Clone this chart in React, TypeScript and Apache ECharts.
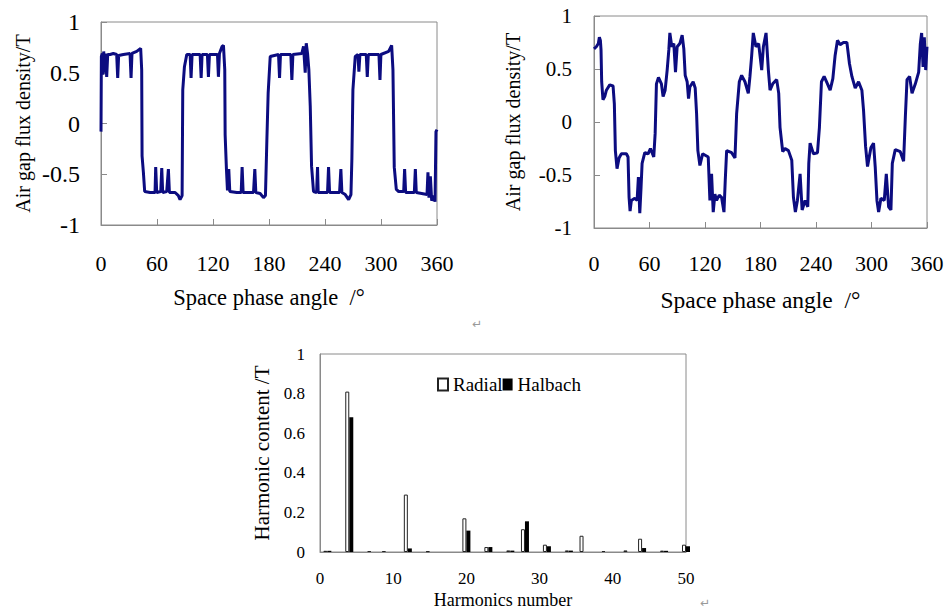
import React, { useEffect, useRef } from "react";
import * as echarts from "echarts";

// ---- Data ----
// Radial magnetised: air gap flux density vs space phase angle [deg, T]
const radialWave: [number, number][] = [
  [0, -0.08], [0.4, 0.66], [1.4, 0.69], [2.1, 0.48], [2.9, 0.71], [3.9, 0.5], [5.0, 0.69], [6.1, 0.46],
  [7.2, 0.68], [9.7, 0.68], [13.2, 0.69], [16.8, 0.68], [17.9, 0.45], [18.9, 0.67], [24.0, 0.68],
  [31.1, 0.69], [32.2, 0.45], [33.2, 0.69], [38.3, 0.71], [41.1, 0.73], [42.5, 0.74], [43.6, 0.53],
  [44.0, -0.32], [45.4, -0.48], [46.8, -0.67], [52.6, -0.68], [57.9, -0.68], [58.6, -0.43], [59.7, -0.68],
  [64.0, -0.67], [65.1, -0.44], [66.1, -0.68], [70.4, -0.67], [72.2, -0.45], [73.3, -0.68], [79.4, -0.68],
  [82.9, -0.71], [84.7, -0.75], [86.9, -0.71], [87.6, 0.33], [89.4, 0.56], [91.9, 0.68], [95.5, 0.68],
  [96.5, 0.45], [97.6, 0.68], [106.2, 0.68], [107.3, 0.45], [108.3, 0.68], [114.0, 0.68], [115.1, 0.46],
  [116.2, 0.68], [124.8, 0.68], [125.8, 0.46], [126.9, 0.69], [129.8, 0.76], [131.2, 0.77], [132.6, 0.53],
  [133.0, -0.11], [134.4, -0.45], [135.5, -0.66], [136.9, -0.45], [138.0, -0.67], [145.5, -0.68],
  [150.2, -0.68], [151.2, -0.43], [152.3, -0.68], [163.4, -0.68], [164.8, -0.45], [165.9, -0.68],
  [170.5, -0.69], [174.1, -0.73], [176.2, -0.71], [177.7, -0.17], [179.1, 0.3], [181.3, 0.66],
  [190.2, 0.68], [191.3, 0.45], [192.3, 0.68], [203.4, 0.68], [204.5, 0.43], [205.6, 0.68], [215.2, 0.69],
  [217.0, 0.76], [218.8, 0.5], [219.9, 0.79], [221.3, 0.69], [222.7, 0.53], [224.2, 0.17], [225.6, -0.42],
  [227.7, -0.67], [231.0, -0.68], [232.0, -0.43], [232.7, -0.68], [242.7, -0.68], [243.8, -0.43],
  [244.9, -0.68], [255.6, -0.68], [257.0, -0.45], [258.1, -0.68], [261.7, -0.7], [265.3, -0.75],
  [267.8, -0.7], [268.8, -0.35], [269.9, 0.33], [272.4, 0.66], [275.3, 0.68], [276.3, 0.51], [277.4, 0.68],
  [284.2, 0.68], [285.3, 0.46], [286.4, 0.68], [297.8, 0.68], [298.9, 0.43], [299.9, 0.68], [308.2, 0.71],
  [311.4, 0.77], [312.8, 0.53], [314.2, -0.43], [316.4, -0.65], [318.9, -0.67], [324.3, -0.67],
  [325.3, -0.45], [326.4, -0.68], [335.7, -0.68], [336.8, -0.45], [337.8, -0.68], [349.3, -0.7],
  [350.3, -0.48], [351.4, -0.73], [352.9, -0.52], [354.3, -0.76], [356.4, -0.71], [357.9, -0.77],
  [358.9, -0.08], [360, -0.06],
];

// Halbach magnetised: air gap flux density vs space phase angle [deg, T]
const halbachWave: [number, number][] = [
  [0, 0.69], [2.5, 0.71], [4.7, 0.74], [5.8, 0.8], [6.9, 0.77], [7.6, 0.68], [8.3, 0.38], [9.7, 0.21],
  [11.6, 0.24], [13.4, 0.3], [17.0, 0.35], [20.6, 0.34], [22.0, 0.17], [23.1, -0.27], [24.9, -0.44],
  [27.1, -0.34], [29.6, -0.3], [35.0, -0.3], [36.8, -0.33], [37.9, -0.71], [39.0, -0.84], [40.4, -0.74],
  [44.1, -0.72], [46.6, -0.74], [48.0, -0.52], [49.5, -0.86], [50.9, -0.61], [52.0, -0.39], [54.9, -0.29],
  [58.5, -0.3], [61.0, -0.25], [64.6, -0.33], [66.1, -0.11], [67.5, 0.36], [69.7, 0.42], [72.9, 0.36],
  [74.7, 0.24], [76.9, 0.3], [79.1, 0.49], [80.9, 0.68], [82.0, 0.84], [84.1, 0.71], [86.3, 0.74],
  [88.1, 0.47], [89.9, 0.71], [92.8, 0.74], [95.3, 0.82], [97.1, 0.69], [98.6, 0.44], [100.7, 0.38],
  [102.2, 0.22], [103.6, 0.33], [107.2, 0.38], [109.4, 0.32], [110.9, 0.08], [112.3, -0.27], [114.5, -0.41],
  [117.4, -0.3], [123.5, -0.33], [125.3, -0.74], [127.1, -0.49], [128.9, -0.85], [130.7, -0.68],
  [132.5, -0.74], [135.4, -0.69], [137.9, -0.71], [140.5, -0.85], [141.9, -0.55], [143.4, -0.27],
  [148.8, -0.29], [152.4, -0.34], [154.2, 0.08], [157.1, 0.38], [159.6, 0.44], [163.2, 0.38], [166.8, 0.27],
  [168.6, 0.43], [170.4, 0.62], [172.2, 0.84], [175.1, 0.71], [178.0, 0.74], [181.3, 0.49], [183.1, 0.71],
  [186.0, 0.84], [188.5, 0.49], [190.3, 0.3], [193.2, 0.36], [197.5, 0.4], [199.7, 0.27], [201.1, -0.05],
  [204.0, -0.28], [206.5, -0.25], [210.2, -0.27], [213.8, -0.36], [215.6, -0.71], [217.7, -0.85],
  [219.9, -0.74], [222.8, -0.49], [225.0, -0.83], [228.2, -0.74], [231.1, -0.8], [232.2, -0.39],
  [233.6, -0.2], [237.2, -0.3], [241.6, -0.29], [243.7, -0.05], [245.9, 0.38], [248.8, 0.43], [252.4, 0.36],
  [255.3, 0.3], [258.2, 0.41], [260.7, 0.63], [263.2, 0.77], [266.1, 0.73], [269.7, 0.75], [273.4, 0.75],
  [276.2, 0.55], [278.8, 0.43], [282.4, 0.32], [286.0, 0.38], [289.6, 0.3], [291.4, 0.11], [293.6, -0.23],
  [295.7, -0.42], [299.4, -0.24], [302.2, -0.2], [304.0, -0.42], [305.9, -0.74], [307.7, -0.85],
  [310.2, -0.72], [313.8, -0.74], [316.0, -0.49], [318.5, -0.8], [321.0, -0.83], [322.5, -0.39],
  [325.7, -0.26], [331.1, -0.28], [334.7, -0.37], [336.6, 0.05], [338.4, 0.4], [341.2, 0.43], [343.8, 0.27],
  [347.4, 0.36], [351.0, 0.47], [352.8, 0.74], [354.2, 0.84], [355.7, 0.52], [357.1, 0.8], [358.6, 0.49],
  [360, 0.71],
];

// Harmonic spectrum
const harmonicOrders = [1, 4, 7, 9, 12, 15, 20, 23, 26, 28, 31, 34, 36, 39, 42, 44, 47, 50];
const radialHarmonics = [0.006, 0.81, 0.005, 0.005, 0.29, 0.004, 0.17, 0.025, 0.008, 0.115, 0.037, 0.008, 0.082, 0.005, 0.008, 0.067, 0.007, 0.037];
const halbachHarmonics = [0.006, 0.68, 0, 0, 0.018, 0, 0.108, 0.025, 0.007, 0.155, 0.029, 0.007, 0, 0, 0, 0.02, 0.006, 0.029];

const angleLabelTicks = { min: 0, max: 360, interval: 60 };
const fluxTicks = { min: -1, max: 1, interval: 0.5 };
const harmonicTicks = { min: 0, max: 50, interval: 10 };
const contentTicks = { min: 0, max: 1, interval: 0.2 };

const serif = "Liberation Serif";
const navy = "#0c0c80";
const frame = "#8a8a8a";

export default function App() {
  const ref = useRef<HTMLDivElement>(null);

  useEffect(() => {
    if (!ref.current) return;
    const chart = echarts.init(ref.current, undefined, { renderer: "svg" });

    const waveX = (gridIndex: number, margin: number, nameGap: number, nameSize: number) => ({
      gridIndex,
      type: "value",
      ...angleLabelTicks,
      axisLine: { show: true, onZero: false, lineStyle: { color: frame } },
      axisTick: { show: true, inside: true, length: 6, lineStyle: { color: frame } },
      axisLabel: { fontFamily: serif, fontSize: 22, color: "#000", margin },
      splitLine: { show: false },
      name: "Space phase angle  /°",
      nameLocation: "middle",
      nameGap,
      nameTextStyle: { fontFamily: serif, fontSize: nameSize, color: "#000" },
    });
    const waveY = (gridIndex: number, margin: number, nameGap: number, labelSize: number) => ({
      gridIndex,
      type: "value",
      ...fluxTicks,
      axisLine: { show: true, onZero: false, lineStyle: { color: frame } },
      axisTick: { show: true, inside: true, length: 6, lineStyle: { color: frame } },
      axisLabel: { fontFamily: serif, fontSize: labelSize, color: "#000", margin },
      splitLine: { show: false },
      name: "Air gap flux density/T",
      nameLocation: "middle",
      nameGap,
      nameTextStyle: { fontFamily: serif, fontSize: 20, color: "#000" },
    });

    chart.setOption({
      animation: false,
      backgroundColor: "#fff",
      textStyle: { fontFamily: serif },
      grid: [
        { left: 101, top: 22, width: 336, height: 203, show: true, borderColor: frame, borderWidth: 1, backgroundColor: "transparent" },
        { left: 594, top: 16, width: 333, height: 212, show: true, borderColor: frame, borderWidth: 1, backgroundColor: "transparent" },
        { left: 320, top: 354, width: 366, height: 198, show: true, borderColor: frame, borderWidth: 1, backgroundColor: "transparent" },
      ],
      xAxis: [
        waveX(0, 27, 61, 22.5),
        waveX(1, 24, 60, 23.5),
        {
          gridIndex: 2,
          type: "value",
          ...harmonicTicks,
          axisLine: { show: true, onZero: false, lineStyle: { color: frame } },
          axisTick: { show: false },
          axisLabel: { fontFamily: serif, fontSize: 17, color: "#000", margin: 18 },
          splitLine: { show: false },
          name: "Harmonics number",
          nameLocation: "middle",
          nameGap: 39,
          nameTextStyle: { fontFamily: serif, fontSize: 18, color: "#000" },
        },
      ],
      yAxis: [
        waveY(0, 21, 68, 24),
        waveY(1, 22, 71, 21),
        {
          gridIndex: 2,
          type: "value",
          ...contentTicks,
          axisLine: { show: true, lineStyle: { color: frame } },
          axisTick: { show: false },
          axisLabel: { fontFamily: serif, fontSize: 17, color: "#000", margin: 15 },
          splitLine: { show: false },
          name: "Harmonic content /T",
          nameLocation: "middle",
          nameGap: 48,
          nameTextStyle: { fontFamily: serif, fontSize: 21, color: "#000" },
        },
      ],
      legend: {
        data: ["Radial", "Halbach"],
        icon: "rect",
        left: 437,
        top: 375,
        itemWidth: 10,
        itemHeight: 12,
        itemGap: 0,
        padding: 0,
        textStyle: { fontFamily: serif, fontSize: 19, color: "#000" },
      },
      series: [
        {
          name: "Radial wave",
          type: "line",
          xAxisIndex: 0,
          yAxisIndex: 0,
          data: radialWave,
          showSymbol: false,
          lineStyle: { color: navy, width: 3 },
        },
        {
          name: "Halbach wave",
          type: "line",
          xAxisIndex: 1,
          yAxisIndex: 1,
          data: halbachWave,
          showSymbol: false,
          lineStyle: { color: navy, width: 3 },
        },
        {
          name: "Radial",
          type: "bar",
          xAxisIndex: 2,
          yAxisIndex: 2,
          barWidth: 4,
          barGap: "0%",
          data: harmonicOrders.map((h, i) => [h, radialHarmonics[i]]),
          itemStyle: { color: "#fff", borderColor: "#222", borderWidth: 1 },
        },
        {
          name: "Halbach",
          type: "bar",
          xAxisIndex: 2,
          yAxisIndex: 2,
          barWidth: 4,
          barGap: "0%",
          data: harmonicOrders.map((h, i) => [h, halbachHarmonics[i]]),
          itemStyle: { color: "#000" },
        },
      ],
      graphic: [
        { type: "text", left: 472, top: 318, style: { text: "↵", fontSize: 12, fill: "#999", fontFamily: "DejaVu Sans" } },
        { type: "text", left: 700, top: 597, style: { text: "↵", fontSize: 12, fill: "#999", fontFamily: "DejaVu Sans" } },
      ],
    });

    return () => chart.dispose();
  }, []);

  return (
    <div
      ref={ref}
      style={{ position: "absolute", left: 0, top: 0, width: 947, height: 612, background: "#fff" }}
    />
  );
}
